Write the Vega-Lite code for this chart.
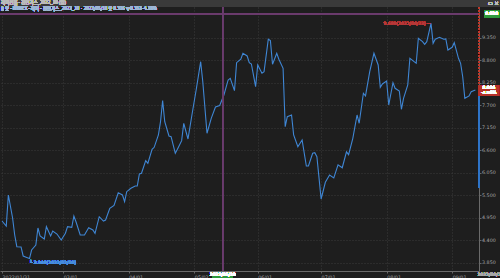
{
  "$schema": "https://vega.github.io/schema/vega-lite/v6.json",
  "width": 479,
  "height": 264,
  "autosize": {"type": "none"},
  "padding": {"top": 7, "left": 0, "right": 21, "bottom": 7},
  "background": "#1e1e1e",
  "config": {"view": {"stroke": null}, "font": "DejaVu Sans", "axis": {"labelOverlap": false, "labelSeparation": 0}},
  "data": {"values": [
    {"date": "2022-01-31", "v": 4.868}, {"date": "2022-02-02", "v": 4.746}, {"date": "2022-02-03", "v": 5.504},
    {"date": "2022-02-05", "v": 4.942}, {"date": "2022-02-06", "v": 4.526}, {"date": "2022-02-07", "v": 4.240},
    {"date": "2022-02-09", "v": 4.233}, {"date": "2022-02-10", "v": 4.013}, {"date": "2022-02-12", "v": 3.971},
    {"date": "2022-02-13", "v": 3.949}, {"date": "2022-02-14", "v": 4.159}, {"date": "2022-02-16", "v": 4.282},
    {"date": "2022-02-17", "v": 4.697}, {"date": "2022-02-18", "v": 4.502}, {"date": "2022-02-20", "v": 4.428},
    {"date": "2022-02-21", "v": 4.729}, {"date": "2022-02-23", "v": 4.502}, {"date": "2022-02-24", "v": 4.624},
    {"date": "2022-02-26", "v": 4.550}, {"date": "2022-02-28", "v": 4.404}, {"date": "2022-03-02", "v": 4.568},
    {"date": "2022-03-03", "v": 4.729}, {"date": "2022-03-05", "v": 4.714}, {"date": "2022-03-06", "v": 4.991},
    {"date": "2022-03-07", "v": 4.851}, {"date": "2022-03-09", "v": 4.526}, {"date": "2022-03-11", "v": 4.526},
    {"date": "2022-03-13", "v": 4.705}, {"date": "2022-03-15", "v": 4.648}, {"date": "2022-03-16", "v": 4.568},
    {"date": "2022-03-18", "v": 4.973}, {"date": "2022-03-20", "v": 4.868}, {"date": "2022-03-21", "v": 4.893},
    {"date": "2022-03-23", "v": 5.179}, {"date": "2022-03-25", "v": 5.247}, {"date": "2022-03-27", "v": 5.560},
    {"date": "2022-03-29", "v": 5.504}, {"date": "2022-03-30", "v": 5.340}, {"date": "2022-03-31", "v": 5.585},
    {"date": "2022-04-02", "v": 5.668}, {"date": "2022-04-04", "v": 5.724}, {"date": "2022-04-05", "v": 5.724},
    {"date": "2022-04-06", "v": 6.017}, {"date": "2022-04-07", "v": 6.035}, {"date": "2022-04-09", "v": 6.343},
    {"date": "2022-04-10", "v": 6.279}, {"date": "2022-04-12", "v": 6.621}, {"date": "2022-04-13", "v": 6.670},
    {"date": "2022-04-15", "v": 6.971}, {"date": "2022-04-16", "v": 7.296}, {"date": "2022-04-17", "v": 7.810},
    {"date": "2022-04-18", "v": 7.296}, {"date": "2022-04-20", "v": 6.947}, {"date": "2022-04-21", "v": 6.930},
    {"date": "2022-04-23", "v": 6.524}, {"date": "2022-04-24", "v": 6.621}, {"date": "2022-04-26", "v": 6.832},
    {"date": "2022-04-27", "v": 7.257}, {"date": "2022-04-29", "v": 6.873}, {"date": "2022-05-01", "v": 7.502},
    {"date": "2022-05-03", "v": 8.113}, {"date": "2022-05-05", "v": 8.763}, {"date": "2022-05-06", "v": 8.274},
    {"date": "2022-05-08", "v": 7.013}, {"date": "2022-05-10", "v": 7.379}, {"date": "2022-05-12", "v": 7.656},
    {"date": "2022-05-14", "v": 7.692}, {"date": "2022-05-16", "v": 7.949}, {"date": "2022-05-18", "v": 8.316},
    {"date": "2022-05-19", "v": 8.357}, {"date": "2022-05-21", "v": 8.054}, {"date": "2022-05-22", "v": 8.739},
    {"date": "2022-05-24", "v": 8.822}, {"date": "2022-05-25", "v": 8.969}, {"date": "2022-05-27", "v": 8.903},
    {"date": "2022-05-28", "v": 8.739}, {"date": "2022-05-29", "v": 8.707}, {"date": "2022-05-31", "v": 8.152},
    {"date": "2022-06-01", "v": 8.683}, {"date": "2022-06-03", "v": 8.480}, {"date": "2022-06-04", "v": 8.519},
    {"date": "2022-06-06", "v": 9.311}, {"date": "2022-06-07", "v": 9.277}, {"date": "2022-06-08", "v": 8.700},
    {"date": "2022-06-10", "v": 8.969}, {"date": "2022-06-11", "v": 8.822}, {"date": "2022-06-13", "v": 8.602},
    {"date": "2022-06-14", "v": 7.174}, {"date": "2022-06-15", "v": 7.418}, {"date": "2022-06-17", "v": 7.460},
    {"date": "2022-06-18", "v": 6.971}, {"date": "2022-06-20", "v": 6.685}, {"date": "2022-06-22", "v": 6.849},
    {"date": "2022-06-24", "v": 6.213}, {"date": "2022-06-25", "v": 6.213}, {"date": "2022-06-27", "v": 6.524},
    {"date": "2022-06-28", "v": 6.538}, {"date": "2022-06-29", "v": 6.440}, {"date": "2022-07-01", "v": 5.406},
    {"date": "2022-07-03", "v": 5.815}, {"date": "2022-07-05", "v": 5.993}, {"date": "2022-07-07", "v": 5.920},
    {"date": "2022-07-09", "v": 6.240}, {"date": "2022-07-11", "v": 6.170}, {"date": "2022-07-13", "v": 6.560},
    {"date": "2022-07-14", "v": 6.490}, {"date": "2022-07-16", "v": 6.890}, {"date": "2022-07-18", "v": 7.460},
    {"date": "2022-07-19", "v": 7.257}, {"date": "2022-07-21", "v": 7.991}, {"date": "2022-07-22", "v": 7.925},
    {"date": "2022-07-24", "v": 8.519}, {"date": "2022-07-26", "v": 8.969}, {"date": "2022-07-28", "v": 8.683},
    {"date": "2022-07-29", "v": 8.137}, {"date": "2022-07-30", "v": 8.218}, {"date": "2022-08-01", "v": 8.291},
    {"date": "2022-08-02", "v": 7.705}, {"date": "2022-08-04", "v": 8.250}, {"date": "2022-08-05", "v": 8.113},
    {"date": "2022-08-07", "v": 8.047}, {"date": "2022-08-08", "v": 7.599}, {"date": "2022-08-09", "v": 7.868},
    {"date": "2022-08-11", "v": 8.194}, {"date": "2022-08-12", "v": 8.846}, {"date": "2022-08-14", "v": 8.763},
    {"date": "2022-08-15", "v": 8.724}, {"date": "2022-08-16", "v": 9.335}, {"date": "2022-08-18", "v": 9.252},
    {"date": "2022-08-19", "v": 9.189}, {"date": "2022-08-20", "v": 9.252}, {"date": "2022-08-22", "v": 9.699},
    {"date": "2022-08-23", "v": 9.213}, {"date": "2022-08-24", "v": 9.311}, {"date": "2022-08-26", "v": 9.360},
    {"date": "2022-08-28", "v": 9.311}, {"date": "2022-08-29", "v": 9.318}, {"date": "2022-08-30", "v": 9.049},
    {"date": "2022-09-01", "v": 9.115}, {"date": "2022-09-02", "v": 9.228}, {"date": "2022-09-04", "v": 8.846},
    {"date": "2022-09-05", "v": 8.724}, {"date": "2022-09-06", "v": 8.396}, {"date": "2022-09-07", "v": 7.868},
    {"date": "2022-09-09", "v": 7.925}, {"date": "2022-09-10", "v": 8.030}, {"date": "2022-09-12", "v": 8.071}
  ]},
  "layer": [
    {
      "mark": {"type": "rect", "color": "#3a3a3a"},
      "encoding": {
        "x": {"datum": {"year": 2022, "month": 1, "date": 29, "utc": true}, "type": "temporal"},
        "x2": {"datum": {"year": 2022, "month": 9, "date": 28, "utc": true}},
        "y": {"datum": 10.1, "type": "quantitative"},
        "y2": {"datum": 10.3}
      }
    },
    {
      "mark": {"type": "line", "color": "#3f86d4", "strokeWidth": 1.1},
      "encoding": {
        "x": {
          "field": "date", "type": "temporal",
          "scale": {"type": "utc", "domain": [
            {"year": 2022, "month": 1, "date": 30, "hours": 1, "utc": true},
            {"year": 2022, "month": 9, "date": 13, "hours": 17, "utc": true}
          ]},
          "axis": {
            "title": null,
            "tickCount": 20,
            "values": [
              {"year": 2022, "month": 1, "date": 31, "utc": true},
              {"year": 2022, "month": 3, "date": 1, "utc": true},
              {"year": 2022, "month": 4, "date": 1, "utc": true},
              {"year": 2022, "month": 5, "date": 2, "utc": true},
              {"year": 2022, "month": 6, "date": 1, "utc": true},
              {"year": 2022, "month": 7, "date": 1, "utc": true},
              {"year": 2022, "month": 8, "date": 1, "utc": true},
              {"year": 2022, "month": 9, "date": 1, "utc": true}
            ],
            "labelExpr": "utcFormat(datum.value, '%m') == '01' ? utcFormat(datum.value, '%Y/%m/%d') : utcFormat(datum.value, '%m/%d')",
            "labelAlign": "left",
            "labelFontSize": 4.8,
            "labelColor": "#aaaaaa",
            "labelPadding": 1,
            "labelFlush": false,
            "labelOverlap": false,
            "tickSize": 2,
            "tickColor": "#666",
            "domainColor": "#6a6a6a",
            "grid": true,
            "gridColor": "#3a3a3a",
            "gridDash": [1, 2]
          }
        },
        "y": {
          "field": "v", "type": "quantitative",
          "scale": {"domain": [3.646, 10.1], "nice": false, "zero": false},
          "axis": {
            "orient": "right",
            "title": null,
            "tickCount": 20,
            "values": [3.85, 4.4, 4.95, 5.5, 6.05, 6.6, 7.15, 7.7, 8.25, 8.8, 9.35],
            "format": ".3f",
            "labelFontSize": 4.8,
            "labelColor": "#aaaaaa",
            "labelPadding": 0.5,
            "labelOverlap": false,
            "labelFlush": false,
            "labelBaseline": "middle",
            "tickSize": 2,
            "tickColor": "#666",
            "domainColor": "#6a6a6a",
            "grid": true,
            "gridColor": "#3a3a3a",
            "gridDash": [1, 2]
          }
        }
      }
    },
    {
      "mark": {"type": "rule", "color": "#6b3d6e", "strokeWidth": 1},
      "encoding": {"x": {"datum": {"year": 2022, "month": 5, "date": 15, "hours": 11, "utc": true}, "type": "temporal"}}
    },
    {
      "mark": {"type": "rule", "color": "#6b3d6e", "strokeWidth": 1},
      "encoding": {"y": {"datum": 9.929, "type": "quantitative"}}
    },
    {
      "mark": {"type": "rule", "color": "#c0392b", "strokeWidth": 1, "strokeDash": [2, 1]},
      "encoding": {
        "x": {"datum": {"year": 2022, "month": 9, "date": 13, "hours": 17, "utc": true}, "type": "temporal"},
        "y": {"datum": 10.1, "type": "quantitative"},
        "y2": {"datum": 8.193}
      }
    },
    {
      "mark": {"type": "rule", "color": "#2f74c8", "strokeWidth": 1.5},
      "encoding": {
        "x": {"datum": {"year": 2022, "month": 9, "date": 13, "hours": 17, "utc": true}, "type": "temporal"},
        "y": {"datum": 7.924, "type": "quantitative"},
        "y2": {"datum": 5.675}
      }
    },
    {
      "mark": {"type": "rect", "color": "#b8322a"},
      "encoding": {
        "x": {"datum": {"year": 2022, "month": 9, "date": 13, "hours": 12, "utc": true}, "type": "temporal"},
        "x2": {"datum": {"year": 2022, "month": 9, "date": 23, "hours": 5, "utc": true}},
        "y": {"datum": 8.193, "type": "quantitative"},
        "y2": {"datum": 7.924}
      }
    },
    {
      "mark": {"type": "text", "color": "#ffffff", "fontSize": 4.3, "align": "center", "baseline": "middle"},
      "encoding": {
        "x": {"datum": {"year": 2022, "month": 9, "date": 18, "hours": 8, "utc": true}, "type": "temporal"},
        "y": {"datum": 8.124, "type": "quantitative"},
        "text": {"value": "8.026"}
      }
    },
    {
      "mark": {"type": "text", "color": "#ffffff", "fontSize": 4.3, "align": "center", "baseline": "middle"},
      "encoding": {
        "x": {"datum": {"year": 2022, "month": 9, "date": 18, "hours": 8, "utc": true}, "type": "temporal"},
        "y": {"datum": 7.99, "type": "quantitative"},
        "text": {"value": "-4.56%"}
      }
    },
    {
      "mark": {"type": "rect", "color": "#2e9a3c"},
      "encoding": {
        "x": {"datum": {"year": 2022, "month": 9, "date": 16, "hours": 2, "utc": true}, "type": "temporal"},
        "x2": {"datum": {"year": 2022, "month": 9, "date": 23, "hours": 5, "utc": true}},
        "y": {"datum": 10.014, "type": "quantitative"},
        "y2": {"datum": 9.843}
      }
    },
    {
      "mark": {"type": "text", "color": "#ffffff", "fontSize": 4.5, "align": "center", "baseline": "middle"},
      "encoding": {
        "x": {"datum": {"year": 2022, "month": 9, "date": 19, "hours": 16, "utc": true}, "type": "temporal"},
        "y": {"datum": 9.929, "type": "quantitative"},
        "text": {"value": "9.930"}
      }
    },
    {
      "mark": {"type": "rect", "color": "#2e9a3c"},
      "encoding": {
        "x": {"datum": {"year": 2022, "month": 5, "date": 10, "hours": 9, "utc": true}, "type": "temporal"},
        "x2": {"datum": {"year": 2022, "month": 5, "date": 20, "hours": 7, "utc": true}},
        "y": {"datum": 3.622, "type": "quantitative"},
        "y2": {"datum": 3.475}
      }
    },
    {
      "mark": {"type": "text", "color": "#ffffff", "fontSize": 4.5, "align": "center", "baseline": "middle"},
      "encoding": {
        "x": {"datum": {"year": 2022, "month": 5, "date": 15, "hours": 11, "utc": true}, "type": "temporal"},
        "y": {"datum": 3.548, "type": "quantitative"},
        "text": {"value": "2022/05/18"}
      }
    },
    {
      "mark": {"type": "text", "color": "#aaaaaa", "fontSize": 4.5, "align": "left", "baseline": "middle"},
      "encoding": {
        "x": {"datum": {"year": 2022, "month": 9, "date": 13, "hours": 0, "utc": true}, "type": "temporal"},
        "y": {"datum": 3.548, "type": "quantitative"},
        "text": {"value": "2022/09/13"}
      }
    },
    {
      "mark": {"type": "text", "color": "#4a8fe0", "fontSize": 4.5, "align": "left", "baseline": "middle", "dx": 0},
      "encoding": {
        "x": {"datum": {"year": 2022, "month": 2, "date": 13, "utc": true}, "type": "temporal"},
        "y": {"datum": 3.84, "type": "quantitative"},
        "text": {"value": "└ 3.949(2022/02/10)"}
      }
    },
    {
      "mark": {"type": "text", "color": "#b83a3a", "fontSize": 4.5, "align": "right", "baseline": "middle", "dx": -1},
      "encoding": {
        "x": {"datum": {"year": 2022, "month": 8, "date": 22, "utc": true}, "type": "temporal"},
        "y": {"datum": 9.68, "type": "quantitative"},
        "text": {"value": "9.699(2022/08/23) ─"}
      }
    },
    {
      "mark": {"type": "text", "color": "#bdbdbd", "fontSize": 4.5, "align": "left", "baseline": "middle", "font": "Noto Sans CJK KR", "dx": 1},
      "encoding": {
        "x": {"datum": {"year": 2022, "month": 1, "date": 30, "hours": 1, "utc": true}, "type": "temporal"},
        "y": {"datum": 10.186, "type": "quantitative"},
        "text": {"value": "해외선물 - 천연가스_2022_10 (일)"}
      }
    },
    {
      "mark": {"type": "text", "color": "#bdbdbd", "fontSize": 5, "align": "right", "baseline": "middle"},
      "encoding": {
        "x": {"datum": {"year": 2022, "month": 9, "date": 23, "hours": 0, "utc": true}, "type": "temporal"},
        "y": {"datum": 10.186, "type": "quantitative"},
        "text": {"value": "▭ ✕"}
      }
    },
    {
      "mark": {"type": "text", "color": "#9fb8d8", "fontSize": 4.5, "align": "left", "baseline": "middle", "font": "Noto Sans CJK KR", "dx": 1},
      "encoding": {
        "x": {"datum": {"year": 2022, "month": 1, "date": 30, "hours": 1, "utc": true}, "type": "temporal"},
        "y": {"datum": 10.039, "type": "quantitative"},
        "text": {"value": "▮ 종 - NYMEX - 해외 - 천연가스_2022_10 · 2022/05/18 종 8.316 ▼0.353 -4.18%"}
      }
    }
  ]
}
